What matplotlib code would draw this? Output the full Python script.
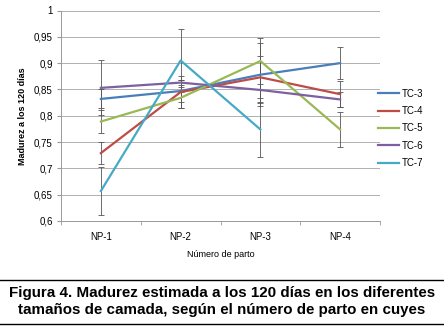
"""Madurez estimada a los 120 dias por tamano de camada y numero de parto."""

import matplotlib
matplotlib.use("Agg")
import matplotlib.pyplot as plt
from matplotlib.lines import Line2D
from matplotlib.ticker import FuncFormatter

partos = ["NP-1", "NP-2", "NP-3", "NP-4"]

tc3 = [0.832, 0.847, 0.878, 0.900]
tc4 = [0.729, 0.845, 0.873, 0.841]
tc5 = [0.789, 0.834, 0.904, 0.774]
tc6 = [0.853, 0.863, 0.849, 0.831]
tc7 = [0.657, 0.905, 0.774]

err3 = [0.018, 0.020, 0.060, 0.030]
err4 = [0.021, 0.030, 0.040, 0.025]
err5 = [0.022, 0.020, 0.044, 0.033]
err6 = [0.052, 0.004, 0.024, 0.015]
err7 = [0.045, 0.059, 0.053]

series = [
    ("TC-3", tc3, err3, "#4A7EBB"),
    ("TC-4", tc4, err4, "#BE4B48"),
    ("TC-5", tc5, err5, "#98B954"),
    ("TC-6", tc6, err6, "#7D60A0"),
    ("TC-7", tc7, err7, "#46AAC5"),
]

plt.rcParams["font.family"] = ["Liberation Sans", "DejaVu Sans"]

fig = plt.figure(figsize=(4.44, 3.26), dpi=100)
ax = fig.add_axes([61 / 444, 1 - 221 / 326, 319 / 444, 210.5 / 326])

for name, vals, errs, color in series:
    x = list(range(len(vals)))
    ax.errorbar(x, vals, yerr=errs, fmt="none", ecolor="#555555",
                elinewidth=0.6, capsize=2, capthick=0.6, zorder=2)
for name, vals, errs, color in series:
    ax.plot(range(len(vals)), vals, color=color, lw=1.6, label=name, zorder=3)

ax.set_xlim(-0.5, 3.5)
ax.set_ylim(0.6, 1.0)
ax.set_yticks([0.6 + 0.05 * i for i in range(9)])
ax.yaxis.set_major_formatter(FuncFormatter(
    lambda v, p: ("%.2f" % v).rstrip("0").rstrip(".").replace(".", ",")))
ax.set_xticks(range(4))
ax.set_xticklabels(partos)
ax.set_xticks([-0.5, 0.5, 1.5, 2.5, 3.5], minor=True)
ax.tick_params(axis="x", which="major", length=0, labelsize=7, pad=8)
ax.tick_params(axis="x", which="minor", length=3, color="#999999")
ax.tick_params(axis="y", length=3, color="#999999", labelsize=7, pad=3)
ax.grid(axis="y", color="#b0b0b0", lw=0.7)
ax.set_axisbelow(True)
for s in ["top", "right"]:
    ax.spines[s].set_visible(False)
for s in ["left", "bottom"]:
    ax.spines[s].set_color("#999999")
    ax.spines[s].set_linewidth(0.7)

ax.set_ylabel("Madurez a los 120 días", fontsize=6.5, fontweight="bold", labelpad=5)
ax.set_xlabel("Número de parto", fontsize=6.5, labelpad=6)

ax.legend(loc="center left", bbox_to_anchor=(0.965, 0.44), frameon=False,
          fontsize=7, handlelength=2.2, handletextpad=0.3, labelspacing=0.75)

fig.add_artist(Line2D([0, 1], [1 - 280 / 326, 1 - 280 / 326], color="black", lw=1))
fig.add_artist(Line2D([0, 1], [1 - 324 / 326, 1 - 324 / 326], color="black", lw=1))
fig.text(0.5, 1 - 301.5 / 326,
         "Figura 4. Madurez estimada a los 120 días en los diferentes\n"
         "tamaños de camada, según el número de parto en cuyes",
         ha="center", va="center", fontsize=10.9, fontweight="bold",
         linespacing=1.2)

fig.savefig("out.png", dpi=100)
